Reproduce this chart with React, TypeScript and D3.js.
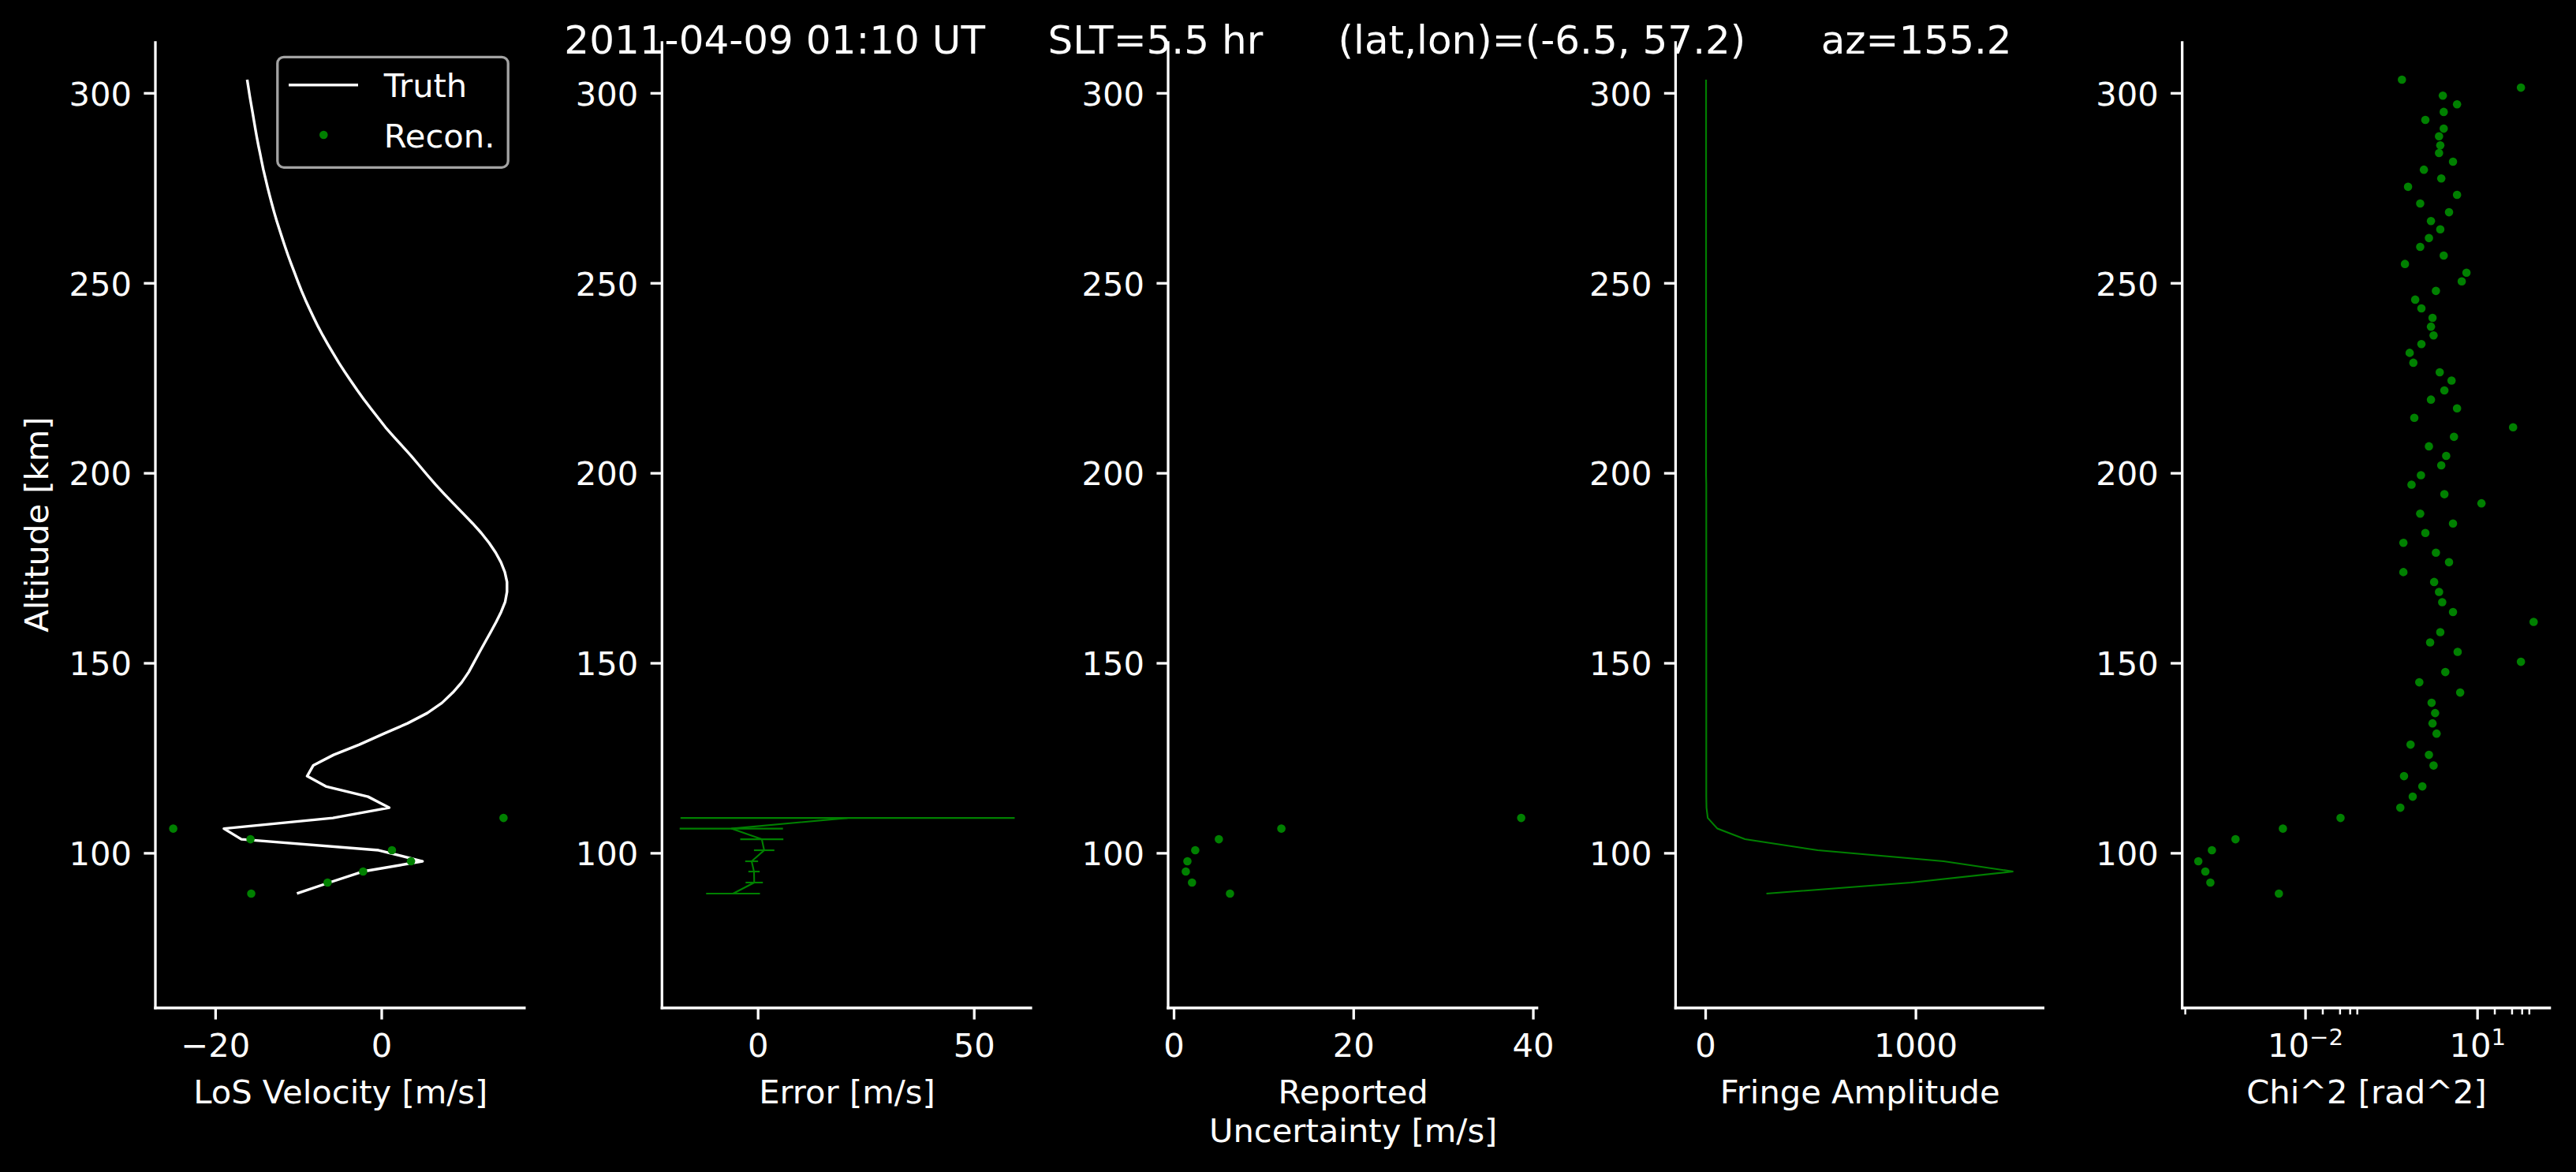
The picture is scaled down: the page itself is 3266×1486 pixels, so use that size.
import React from 'react';
import * as d3 from 'd3';

// ---------------- data ----------------
const altitudes = [
  303.6, 301.5, 299.4, 297.1, 295.1, 293.0, 290.7, 288.7, 286.3, 284.3,
  282.0, 279.9, 277.6, 275.4, 273.3, 271.0, 268.7, 266.4, 264.2, 261.9,
  259.6, 257.3, 255.1, 252.8, 250.5, 248.0, 245.7, 243.4, 240.9, 238.6,
  236.3, 234.0, 231.7, 229.1, 226.6, 224.4, 221.8, 219.4, 217.1, 214.6,
  212.1, 209.6, 207.1, 204.6, 202.1, 199.5, 197.0, 194.5, 192.1, 189.4,
  186.8, 184.3, 181.7, 179.1, 176.6, 174.0, 171.4, 168.8, 166.1, 163.5,
  160.9, 158.2, 155.5, 153.0, 150.4, 147.7, 145.0, 142.3, 139.6, 136.9,
  134.2, 131.5, 128.6, 125.9, 123.1, 120.3, 117.6, 114.9, 112.0, 109.3,
  106.5, 103.7, 100.8, 97.9, 95.2, 92.3, 89.4,
];

const truthVelocity = [
  -16.2, -16.05, -15.9, -15.72, -15.56, -15.4, -15.22, -15.06, -14.85, -14.66,
  -14.45, -14.25, -14.0, -13.76, -13.52, -13.24, -12.95, -12.64, -12.32, -11.98,
  -11.63, -11.27, -10.9, -10.5, -10.1, -9.65, -9.2, -8.72, -8.18, -7.66,
  -7.1, -6.5, -5.88, -5.17, -4.43, -3.75, -2.93, -2.13, -1.33, -0.44,
  0.45, 1.46, 2.5, 3.53, 4.5, 5.5, 6.5, 7.55, 8.6, 9.8,
  10.95, 11.98, 12.92, 13.72, 14.35, 14.82, 15.08, 15.08, 14.85, 14.37,
  13.78, 13.11, 12.42, 11.79, 11.14, 10.47, 9.63, 8.56, 7.26, 5.48,
  3.11, 0.27, -2.7, -5.8, -8.25, -8.98, -6.73, -1.65, 0.89, -5.88,
  -19.0, -16.9, -0.38, 4.91, -2.29, -6.31, -10.21,
];

const reconAltitudes = [109.3, 106.5, 103.7, 100.8, 97.9, 95.2, 92.3, 89.4];
const reconVelocity = [14.66, -25.1, -15.8, 1.23, 3.52, -2.24, -6.52, -15.71];
const velocityError = [20.7, -6.2, 0.85, 1.4, -1.5, -0.95, -0.9, -5.8];
const reportedUncertainty = [38.65, 11.95, 4.99, 2.36, 1.49, 1.31, 2.0, 6.23];

const fringeAmplitude = [
  2, 2, 2, 2, 2, 2, 2, 2, 2, 2,
  2, 2, 2, 2, 2, 2, 2, 2, 2, 2,
  2, 2, 2, 2, 2, 2, 2, 2, 2, 2,
  2, 2, 2, 2, 2, 2, 2, 2, 2, 2,
  2, 2, 2, 2, 2, 2, 3, 3, 3, 3,
  3, 3, 3, 3, 3, 3, 3, 3, 3, 3,
  3, 3, 3, 3, 3, 3, 3, 3, 3, 3,
  3, 3, 3, 3, 3, 3, 3, 3, 4, 10,
  56, 187, 533, 1132, 1463, 977, 289,
];

const chiSquared = [
  0.48, 57.1, 2.48, 4.39, 2.57, 1.23, 2.57, 2.13, 2.24, 2.13,
  3.73, 1.16, 2.33, 0.614, 4.39, 1.0, 3.18, 1.54, 2.24, 1.42,
  1.0, 2.57, 0.542, 6.41, 5.30, 1.88, 0.818, 1.05, 1.64, 1.54,
  1.71, 1.05, 0.655, 0.759, 2.19, 3.52, 2.64, 1.54, 4.39, 0.789,
  41.7, 3.88, 1.42, 2.84, 2.33, 1.03, 0.706, 2.64, 11.7, 1.0,
  3.73, 1.23, 0.509, 1.88, 3.18, 0.509, 1.75, 2.13, 2.42, 3.73,
  95.1, 2.24, 1.49, 4.50, 57.1, 2.74, 0.964, 4.98, 1.58, 1.82,
  1.64, 1.93, 0.679, 1.42, 1.71, 0.522, 1.09, 0.740, 0.450, 0.0408,
  0.00403, 0.000601, 0.000233, 0.000135, 0.000179, 0.000219, 0.00343,
];

const yTicks = [100, 150, 200, 250, 300];
const velocityTicks = [-20, 0];
const errorTicks = [0, 50];
const uncertaintyTicks = [0, 20, 40];
const amplitudeTicks = [0, 1000];
const chiMajorTicks = [1e-2, 1e1];
const chiMinorTicks = [8e-5, 2e-2, 4e-2, 6e-2, 8e-2, 20, 40, 60, 80];

const titleText = '2011-04-09 01:10 UT     SLT=5.5 hr      (lat,lon)=(-6.5, 57.2)      az=155.2';
const xLabels = ['LoS Velocity [m/s]', 'Error [m/s]', 'Reported\nUncertainty [m/s]', 'Fringe Amplitude', 'Chi^2 [rad^2]'];

// ---------------- layout ----------------
const W = 3266;
const H = 1486;
const FONT = '"DejaVu Sans", sans-serif';
const FS = 41.67;
const GREEN = '#008000';
const SPINE = 3.3;
const TICK_LEN = 14.6;
const axTop = 52.3;
const axBottom = 1278;
const panelLeft = [197, 839.3, 1481, 2124.4, 2766.7];
const panelWidth = [469.5, 469.3, 469.3, 467.6, 467.6];

const yScale = d3.scaleLinear().domain([59.3, 313.7]).range([axBottom, axTop]);

const xScales: any[] = [
  d3.scaleLinear().domain([-27.25, 17.33]).range([panelLeft[0], panelLeft[0] + panelWidth[0]]),
  d3.scaleLinear().domain([-22.24, 63.39]).range([panelLeft[1], panelLeft[1] + panelWidth[1]]),
  d3.scaleLinear().domain([-0.66, 40.55]).range([panelLeft[2], panelLeft[2] + panelWidth[2]]),
  d3.scaleLinear().domain([-143, 1611]).range([panelLeft[3], panelLeft[3] + panelWidth[3]]),
  d3.scaleLog().domain([Math.pow(10, -4.151), Math.pow(10, 2.281)]).range([panelLeft[4], panelLeft[4] + panelWidth[4]]),
];

const fmtLinear = (v: number) => (v < 0 ? '\u2212' + Math.abs(v) : String(v));

function LinearTickLabel({ x, v }: { x: number; v: number }) {
  return (
    <text x={x} y={1340} fill="#fff" fontSize={FS} textAnchor="middle" fontFamily={FONT}>
      {fmtLinear(v)}
    </text>
  );
}

function LogTickLabel({ x, v }: { x: number; v: number }) {
  const e = Math.round(Math.log10(v));
  const es = e < 0 ? '\u2212' + Math.abs(e) : String(e);
  return (
    <text x={x} y={1340} fill="#fff" fontSize={FS} textAnchor="middle" fontFamily={FONT}>
      <tspan>10</tspan>
      <tspan dy={-15} fontSize={29.2}>{es}</tspan>
    </text>
  );
}

function Axes({ idx, ticks, isLog }: { idx: number; ticks: number[]; isLog?: boolean }) {
  const left = panelLeft[idx];
  const right = left + panelWidth[idx];
  const xs = xScales[idx];
  const labelLines = xLabels[idx].split('\n');
  const cx = (left + right) / 2;
  return (
    <g>
      <line x1={left} x2={left} y1={axTop} y2={axBottom + SPINE / 2} stroke="#fff" strokeWidth={SPINE} />
      <line x1={left - SPINE / 2} x2={right} y1={axBottom} y2={axBottom} stroke="#fff" strokeWidth={SPINE} />
      {yTicks.map((t) => (
        <g key={'y' + t}>
          <line x1={left - TICK_LEN} x2={left} y1={yScale(t)} y2={yScale(t)} stroke="#fff" strokeWidth={SPINE} />
          <text x={left - 30} y={yScale(t) + 15.3} fill="#fff" fontSize={FS} textAnchor="end" fontFamily={FONT}>
            {t}
          </text>
        </g>
      ))}
      {ticks.map((t) => (
        <g key={'x' + t}>
          <line x1={xs(t)} x2={xs(t)} y1={axBottom} y2={axBottom + TICK_LEN} stroke="#fff" strokeWidth={SPINE} />
          {isLog ? <LogTickLabel x={xs(t)} v={t} /> : <LinearTickLabel x={xs(t)} v={t} />}
        </g>
      ))}
      {isLog &&
        chiMinorTicks.map((t) => (
          <line key={'m' + t} x1={xs(t)} x2={xs(t)} y1={axBottom} y2={axBottom + 8.3} stroke="#fff" strokeWidth={2.5} />
        ))}
      {labelLines.map((l, i) => (
        <text key={i} x={cx} y={1398.5 + i * 49} fill="#fff" fontSize={FS} textAnchor="middle" fontFamily={FONT}>
          {l}
        </text>
      ))}
    </g>
  );
}

export default function App() {
  const line = d3.line<[number, number]>().x((d) => d[0]).y((d) => d[1]);

  const truthPath = line(altitudes.map((a, i) => [xScales[0](truthVelocity[i]), yScale(a)] as [number, number])) || '';
  const errorPath = line(reconAltitudes.map((a, i) => [xScales[1](velocityError[i]), yScale(a)] as [number, number])) || '';
  const ampPath = line(altitudes.map((a, i) => [xScales[3](fringeAmplitude[i]), yScale(a)] as [number, number])) || '';

  const R = 5.3;

  return (
    <svg
      width={W}
      height={H}
      viewBox={`0 0 ${W} ${H}`}
      style={{ position: 'absolute', left: 0, top: 0, display: 'block' }}
      fontFamily={FONT}
    >
      <rect x={0} y={0} width={W} height={H} fill="#000" />

      <text x={1633} y={68} fill="#fff" fontSize={50} textAnchor="middle" fontFamily={FONT} xmlSpace="preserve" style={{ whiteSpace: 'pre' }}>
        {titleText}
      </text>

      {/* panel 1 : LoS velocity */}
      <Axes idx={0} ticks={velocityTicks} />
      <path d={truthPath} fill="none" stroke="#fff" strokeWidth={3.4} strokeLinejoin="round" />
      {reconAltitudes.map((a, i) => (
        <circle key={'r' + i} cx={xScales[0](reconVelocity[i])} cy={yScale(a)} r={R} fill={GREEN} />
      ))}
      <text
        transform={`translate(61, ${(axTop + axBottom) / 2}) rotate(-90)`}
        fill="#fff"
        fontSize={FS}
        textAnchor="middle"
        fontFamily={FONT}
      >
        Altitude [km]
      </text>

      {/* legend */}
      <rect x={351.8} y={72.3} width={292.4} height={140} rx={8} ry={8} fill="#000" fillOpacity={0.8} stroke="#a3a3a3" strokeWidth={3.3} />
      <line x1={366} x2={454} y1={107.7} y2={107.7} stroke="#fff" strokeWidth={3.4} />
      <text x={486.7} y={123.3} fill="#fff" fontSize={FS} fontFamily={FONT}>Truth</text>
      <circle cx={410.3} cy={171} r={R} fill={GREEN} />
      <text x={486.7} y={186.7} fill="#fff" fontSize={FS} fontFamily={FONT}>Recon.</text>

      {/* panel 2 : Error */}
      <Axes idx={1} ticks={errorTicks} />
      {reconAltitudes.map((a, i) => (
        <line
          key={'eb' + i}
          x1={xScales[1](velocityError[i] - reportedUncertainty[i])}
          x2={xScales[1](velocityError[i] + reportedUncertainty[i])}
          y1={yScale(a)}
          y2={yScale(a)}
          stroke={GREEN}
          strokeWidth={2.1}
        />
      ))}
      <path d={errorPath} fill="none" stroke={GREEN} strokeWidth={2.1} />

      {/* panel 3 : Reported uncertainty */}
      <Axes idx={2} ticks={uncertaintyTicks} />
      {reconAltitudes.map((a, i) => (
        <circle key={'u' + i} cx={xScales[2](reportedUncertainty[i])} cy={yScale(a)} r={R} fill={GREEN} />
      ))}

      {/* panel 4 : Fringe amplitude */}
      <Axes idx={3} ticks={amplitudeTicks} />
      <path d={ampPath} fill="none" stroke={GREEN} strokeWidth={2.1} />

      {/* panel 5 : Chi^2 */}
      <Axes idx={4} ticks={chiMajorTicks} isLog />
      {altitudes.map((a, i) => (
        <circle key={'c' + i} cx={xScales[4](chiSquared[i])} cy={yScale(a)} r={R} fill={GREEN} />
      ))}
    </svg>
  );
}
